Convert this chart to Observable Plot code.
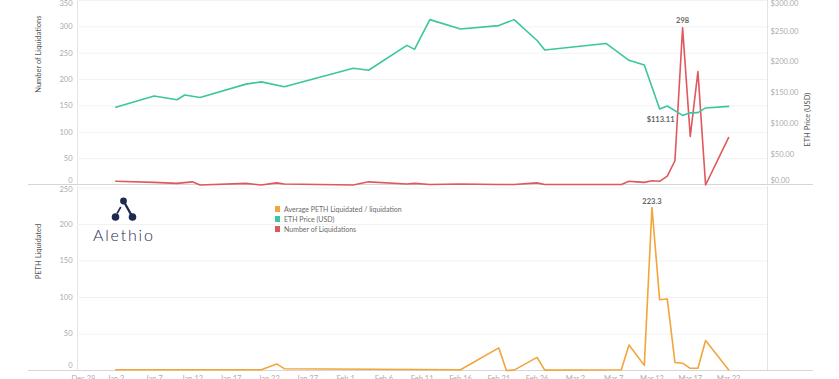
<!DOCTYPE html>
<html><head><meta charset="utf-8">
<script src="https://cdn.jsdelivr.net/npm/d3@7"></script>
<script src="https://cdn.jsdelivr.net/npm/@observablehq/plot@0.6"></script>
<style>
html,body{margin:0;padding:0;background:#fff;overflow:hidden;width:839px;height:379px;}
body{position:relative;font-family:Lato,"Open Sans",sans-serif;}
.abs{position:absolute;}
.vline{position:absolute;width:1px;background:#e4e4e4;}
.hline{position:absolute;height:1px;background:#d6d6d6;}
#legend{position:absolute;left:275px;top:204px;font-size:7px;color:#6a6a6a;line-height:10px;}
#legend .it{display:flex;align-items:center;height:10px;}
#legend .sw{width:5px;height:6px;margin-right:4px;}
#logoText{position:absolute;left:93px;top:225px;font-size:16px;font-weight:300;letter-spacing:1.8px;color:#1f2a4f;font-family:Lato,sans-serif;}
</style></head><body>
<div class="vline" style="left:77px;top:0;height:185px"></div>
<div class="vline" style="left:767px;top:0;height:185px"></div>
<div class="vline" style="left:77px;top:186px;height:184px"></div>
<div class="vline" style="left:767px;top:186px;height:184px"></div>
<div class="hline" style="left:28px;top:184px;width:785px"></div>
<div class="hline" style="left:28px;top:370px;width:785px"></div>
<div id="top" class="abs" style="left:0;top:0"></div>
<div id="topPrice" class="abs" style="left:0;top:0"></div>
<div id="bottom" class="abs" style="left:0;top:186px"></div>
<svg class="abs" style="left:108px;top:196px" width="32" height="28" viewBox="0 0 32 28">
  <line x1="15.5" y1="5" x2="24.5" y2="21" stroke="#1f2a4f" stroke-width="2.4"/>
  <line x1="9" y1="17.5" x2="12.8" y2="11" stroke="#1f2a4f" stroke-width="1.6"/>
  <circle cx="15.5" cy="5" r="3.4" fill="#1f2a4f"/>
  <circle cx="7.5" cy="21" r="3.8" fill="#1f2a4f"/>
  <circle cx="24.5" cy="21" r="3.8" fill="#1f2a4f"/>
</svg>
<div id="logoText">Alethio</div>
<div id="legend"></div>
<script>
// ---- data ----
const liqDates = ["2020-01-02","2020-01-07","2020-01-10","2020-01-12","2020-01-13","2020-01-19","2020-01-21","2020-01-23","2020-01-24","2020-02-02","2020-02-04","2020-02-09","2020-02-10","2020-02-12","2020-02-16","2020-02-21","2020-02-23","2020-02-26","2020-02-27","2020-03-08","2020-03-09","2020-03-10","2020-03-11","2020-03-12","2020-03-13","2020-03-14","2020-03-15","2020-03-16","2020-03-17","2020-03-18","2020-03-19","2020-03-22"];
const liqCounts = [7,5,3,6,0,3,0,4,2,0,6,2,3,1,2,1,1,4,1,1,7,6,5,8,7,17,46,298,92,215,0,90];

const ethDates = ["2020-01-02","2020-01-07","2020-01-10","2020-01-11","2020-01-13","2020-01-19","2020-01-21","2020-01-24","2020-02-02","2020-02-04","2020-02-09","2020-02-10","2020-02-12","2020-02-16","2020-02-21","2020-02-23","2020-02-26","2020-02-27","2020-03-06","2020-03-09","2020-03-11","2020-03-13","2020-03-14","2020-03-16","2020-03-17","2020-03-18","2020-03-19","2020-03-22"];
const ethPrice = [126.3,144.7,138.7,146.3,142.4,164,167.7,159.7,189.8,186.6,227,220.5,268.9,253.7,259.2,268.9,235,219.4,230.2,202.7,195.2,123.7,128.5,113.11,117.3,117.7,125.3,127.9];

const pethDates = ["2020-01-02","2020-01-21","2020-01-23","2020-01-24","2020-02-16","2020-02-21","2020-02-22","2020-02-23","2020-02-26","2020-02-27","2020-03-08","2020-03-09","2020-03-11","2020-03-12","2020-03-13","2020-03-14","2020-03-15","2020-03-16","2020-03-17","2020-03-18","2020-03-19","2020-03-22"];
const pethAvg = [1,1,9,2.5,1,31,0,0.5,18,0.5,1,35,7,223.3,97,98,11,10,3,3,41,1];

const xTickDates = ["2019-12-28","2020-01-02","2020-01-07","2020-01-12","2020-01-17","2020-01-22","2020-01-27","2020-02-01","2020-02-06","2020-02-11","2020-02-16","2020-02-21","2020-02-26","2020-03-02","2020-03-07","2020-03-12","2020-03-17","2020-03-22"];
const liqTicks = [0,50,100,150,200,250,300,350];
const priceTicks = [0,50,100,150,200,250,300];
const pethTicks = [0,50,100,150,200,250];

const seriesNames = ["Average PETH Liquidated / liquidation","ETH Price (USD)","Number of Liquidations"];
const seriesColors = ["#f2a53a","#3cc6a0","#e0585d"];

// ---- build ----
const liq = liqDates.map((d,i)=>({date:new Date(d), count:liqCounts[i]}));
const eth = ethDates.map((d,i)=>({date:new Date(d), price:ethPrice[i]}));
const peth = pethDates.map((d,i)=>({date:new Date(d), avg:pethAvg[i]}));
const xDomain = [new Date("2019-12-28T00:00Z"), new Date("2020-03-27T02:00Z")];
const W = 839;
const ML = 77, MR = 72;
const baseStyle = {background:"transparent", color:"#ababab", fontSize:"7.5px", fontFamily:"Lato, 'Open Sans', sans-serif", overflow:"visible"};
const inner = a => a.slice(1, -1);

const topLiq = Plot.plot({
  width: W, height: 186, marginLeft: ML, marginRight: MR, marginTop: 0, marginBottom: 1.5,
  style: baseStyle,
  x: {type:"utc", domain: xDomain, axis: null},
  y: {domain:[0,350], axis: null},
  marks: [
    Plot.gridY(liqTicks.slice(1), {stroke:"#f2f2f2", strokeOpacity:1}),
    Plot.axisY(inner(liqTicks), {anchor:"left", tickSize:0, tickPadding:5, label:null}),
    Plot.axisY(liqTicks.slice(-1), {anchor:"left", tickSize:0, tickPadding:5, label:null, dy:3.5}),
    Plot.axisY(liqTicks.slice(0,1), {anchor:"left", tickSize:0, tickPadding:5, label:null, dy:-4}),
    Plot.text(["Number of Liquidations"], {frameAnchor:"left", rotate:-90, dx:-39, fill:"#555", fontSize:7.5}),
    Plot.lineY(liq, {x:"date", y:"count", stroke:seriesColors[2], strokeWidth:1.6}),
    Plot.text(liq, Plot.selectMaxY({x:"date", y:"count", text:d=>String(d.count), dy:-7, fill:"#666", fontSize:7.5, fontWeight:"bold"}))
  ]
});
document.getElementById("top").append(topLiq);

const priceFmt = d=>"$"+d.toFixed(2);
const topPrice = Plot.plot({
  width: W, height: 186, marginLeft: ML, marginRight: MR, marginTop: 0, marginBottom: 1.5,
  style: baseStyle,
  x: {type:"utc", domain: xDomain, axis: null},
  y: {domain:[0,300], axis: null},
  marks: [
    Plot.axisY(inner(priceTicks), {anchor:"right", tickSize:0, tickPadding:3, label:null, tickFormat:priceFmt}),
    Plot.axisY(priceTicks.slice(-1), {anchor:"right", tickSize:0, tickPadding:3, label:null, tickFormat:priceFmt, dy:3.5}),
    Plot.axisY(priceTicks.slice(0,1), {anchor:"right", tickSize:0, tickPadding:3, label:null, tickFormat:priceFmt, dy:-4}),
    Plot.text(["ETH Price (USD)"], {frameAnchor:"right", rotate:-90, dx:40, fill:"#555", fontSize:7.5}),
    Plot.lineY(eth, {x:"date", y:"price", stroke:seriesColors[1], strokeWidth:1.6}),
    Plot.text(eth, Plot.selectMinY({x:"date", y:"price", text:d=>"$"+d.price.toFixed(2), dx:-22, dy:4, fill:"#666", fontSize:7.5, fontWeight:"bold"}))
  ]
});
document.getElementById("topPrice").append(topPrice);

const xFmt = d3.utcFormat("%b %-d");
const xTicks = xTickDates.map(d=>new Date(d));
const bottom = Plot.plot({
  width: W, height: 193, marginLeft: ML, marginRight: MR, marginTop: 1.5, marginBottom: 9,
  style: baseStyle,
  x: {type:"utc", domain: xDomain, axis: null},
  y: {domain:[0,250], axis: null},
  marks: [
    Plot.gridY(pethTicks.slice(1), {stroke:"#f2f2f2", strokeOpacity:1}),
    Plot.axisY(inner(pethTicks), {anchor:"left", tickSize:0, tickPadding:5, label:null}),
    Plot.axisY(pethTicks.slice(-1), {anchor:"left", tickSize:0, tickPadding:5, label:null, dy:2}),
    Plot.axisY(pethTicks.slice(0,1), {anchor:"left", tickSize:0, tickPadding:5, label:null, dy:-4.5}),
    Plot.axisX(xTicks.slice(1), {anchor:"bottom", tickSize:0, tickPadding:5, label:null, tickFormat:xFmt}),
    Plot.axisX(xTicks.slice(0,1), {anchor:"bottom", tickSize:0, tickPadding:5, label:null, tickFormat:xFmt, dx:6}),
    Plot.text(["PETH Liquidated"], {frameAnchor:"left", rotate:-90, dx:-39, fill:"#555", fontSize:7.5}),
    Plot.lineY(peth, {x:"date", y:"avg", stroke:seriesColors[0], strokeWidth:1.6}),
    Plot.text(peth, Plot.selectMaxY({x:"date", y:"avg", text:d=>String(d.avg), dy:-6, fill:"#666", fontSize:7.5, fontWeight:"bold"}))
  ]
});
document.getElementById("bottom").append(bottom);

const lg = document.getElementById("legend");
seriesNames.forEach((n,i)=>{
  const it = document.createElement("div"); it.className="it";
  const sw = document.createElement("span"); sw.className="sw"; sw.style.background=seriesColors[i];
  const tx = document.createElement("span"); tx.textContent=n;
  it.append(sw, tx); lg.append(it);
});
</script>
</body></html>
